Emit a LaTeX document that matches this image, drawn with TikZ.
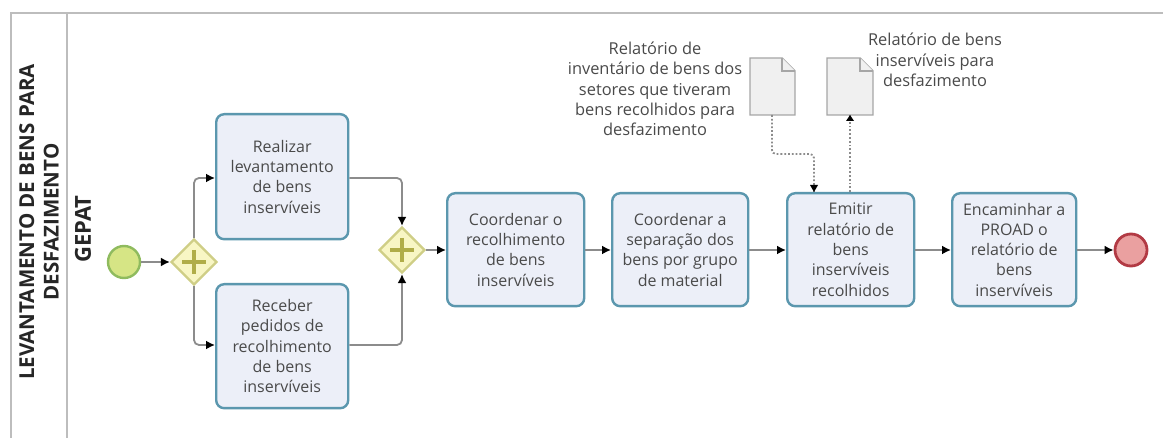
\documentclass[tikz,border=0pt]{standalone}
\usepackage{fontspec}
\setmainfont{Open Sans}
\usetikzlibrary{arrows.meta,shapes.geometric}
\definecolor{taskedge}{HTML}{5B97AE}
\definecolor{taskfill}{HTML}{ECEFF8}
\definecolor{gwedge}{HTML}{CFCE86}
\definecolor{gwfill}{HTML}{F8F6C4}
\definecolor{gwplus}{HTML}{B0AD48}
\definecolor{txt}{HTML}{4A4A4A}
\definecolor{lane}{HTML}{BDBDBD}
\definecolor{flowc}{HTML}{8C8C8C}
\definecolor{startfill}{HTML}{D6E585}
\definecolor{startedge}{HTML}{8FBB5E}
\definecolor{endfill}{HTML}{EAA0A0}
\definecolor{endedge}{HTML}{B23A44}
\tikzset{x=1pt,y=-1pt,
 taskbox/.style={draw=taskedge,line width=2.4pt,fill=taskfill,rounded corners=8pt,inner sep=0pt,align=center,text=txt,font=\fontsize{16}{20.3}\selectfont,anchor=north west},
 flow/.style={draw=flowc,line width=1.8pt,rounded corners=5pt,-{Latex[black,length=9pt,width=9pt]}},
 assoc/.style={draw=flowc,line width=1.8pt,dotted,rounded corners=4pt},
 gw/.style={diamond,draw=gwedge,line width=2.2pt,fill=gwfill,minimum width=46pt,minimum height=46pt,inner sep=0pt},
 plus/.style={draw=gwplus,line width=3.6pt},
 doc/.style={draw=gray!70,line width=1.4pt,fill=gray!12},
 note/.style={align=center,text=txt,font=\fontsize{16.4}{20.3}\selectfont,inner sep=0pt},
 title/.style={rotate=90,align=center,text=black!85,font=\fontsize{20.5}{24.5}\selectfont\bfseries,inner sep=0pt}
}
\begin{document}
\begin{tikzpicture}
\useasboundingbox (0,0) rectangle (1163,438);
\fill[white] (0,0) rectangle (1163,438);
\draw[lane,line width=1.8pt] (11,438) -- (11,13) -- (1163,13);
\draw[lane,line width=1.8pt] (67,13) -- (67,438);
\node[title] (pool) at (39,222) {LEVANTAMENTO DE BENS PARA\\DESFAZIMENTO};
\node[title,font=\fontsize{22}{24}\selectfont\bfseries] (lanelabel) at (83,229) {GEPAT};
\node[circle,draw=startedge,line width=2.4pt,fill=startfill,minimum size=32pt,inner sep=0pt] (start) at (124,262) {};
\node[circle,draw=endedge,line width=2.8pt,fill=endfill,minimum size=32pt,inner sep=0pt] (end) at (1131,250) {};
\node[gw] (g1) at (194,262) {};
\node[gw] (g2) at (402,250) {};
\draw[plus] (182,262) -- (206,262) (194,250) -- (194,274);
\draw[plus] (390,250) -- (414,250) (402,238) -- (402,262);
\node[taskbox,minimum width=132pt,minimum height=125pt] (t1) at (215,113) {Realizar\\levantamento\\de bens\\inservíveis};
\node[taskbox,minimum width=132pt,minimum height=124pt] (t2) at (215,283) {Receber\\pedidos de\\recolhimento\\de bens\\inservíveis};
\node[taskbox,minimum width=137pt,minimum height=113pt] (t3) at (446,192) {Coordenar o\\recolhimento\\de bens\\inservíveis};
\node[taskbox,minimum width=136pt,minimum height=113pt] (t4) at (611,192) {Coordenar a\\separação dos\\bens por grupo\\de material};
\node[taskbox,minimum width=127pt,minimum height=113pt] (t5) at (786,192) {Emitir\\relatório de\\bens\\inservíveis\\recolhidos};
\node[taskbox,minimum width=124pt,minimum height=113pt] (t6) at (951,192) {Encaminhar a\\PROAD o\\relatório de\\bens\\inservíveis};
\coordinate (d1b) at (772,115);
\coordinate (d2b) at (850,115);
\coordinate (t5a) at (814,192);
\coordinate (t5b) at (850,192);
\draw[doc] (750,58) -- (782,58) -- (795,71) -- (795,115) -- (750,115) -- cycle;
\draw[doc] (782,58) -- (782,71) -- (795,71);
\draw[doc] (827,58) -- (860,58) -- (873,71) -- (873,115) -- (827,115) -- cycle;
\draw[doc] (860,58) -- (860,71) -- (873,71);
\node[note] (n1) at (655,89) {Relatório de\\inventário de bens dos\\setores que tiveram\\bens recolhidos para\\desfazimento};
\node[note] (n2) at (935,60) {Relatório de bens\\inservíveis para\\desfazimento};
\draw[flow] (start) -- (g1);
\draw[flow] (g1.north) -- (194,178) -- (t1.west |- 0,178);
\draw[flow] (g1.south) -- (194,345) -- (t2.west |- 0,345);
\draw[flow] (t1.east |- 0,178) -- (402,178) -- (g2.north);
\draw[flow] (t2.east |- 0,345) -- (402,345) -- (g2.south);
\draw[flow] (g2) -- (t3.west |- g2);
\draw[flow] (t3.east |- g2) -- (t4.west |- g2);
\draw[flow] (t4.east |- g2) -- (t5.west |- g2);
\draw[flow] (t5.east |- g2) -- (t6.west |- g2);
\draw[flow] (t6.east |- g2) -- (end.west);
\draw[assoc] (d1b) -- (772,154) -- (814,154) -- (t5a);
\fill[black] (814,192) -- (810,185) -- (818,185) -- cycle;
\draw[assoc] (t5b) -- (d2b);
\fill[black] (850,115) -- (846,121) -- (854,121) -- cycle;
\end{tikzpicture}
\end{document}
